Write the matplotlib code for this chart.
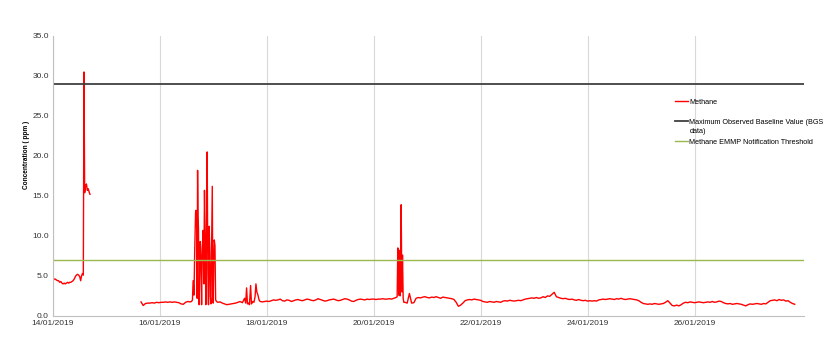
import matplotlib
matplotlib.use("Agg")
import matplotlib.pyplot as plt
import matplotlib.dates as mdates
import numpy as np
import pandas as pd

plt.rcParams['font.family'] = ['Liberation Sans', 'DejaVu Sans']

start = pd.Timestamp('2019-01-14 00:00')

# first run of readings (hours after 14/01 00:00)
seg1_hours = [0, 0.5, 1, 1.5, 2, 2.5, 3, 3.5, 4, 4.5, 5, 5.5, 6, 6.5, 7, 7.5, 8, 8.5, 9, 9.5,
              10, 10.5, 11, 11.5, 12, 12.4, 12.8, 13.2, 13.6, 13.9, 14.2, 14.6, 15.0, 15.4, 15.8, 16.2, 16.6]
seg1_ppm = [4.7, 4.6, 4.6, 4.5, 4.4, 4.4, 4.2, 4.3, 4.1, 4.0, 4.1, 4.0, 4.1, 4.2, 4.1, 4.2, 4.2, 4.3, 4.4, 4.6,
            4.9, 5.1, 5.2, 5.1, 4.9, 4.4, 5.0, 5.3, 5.1, 30.5, 15.4, 16.2, 16.5, 15.7, 15.9, 15.5, 15.2]

# second run: hourly background + bursts
base1_ppm = [1.75, 1.3, 1.55, 1.6, 1.6, 1.65, 1.6, 1.7, 1.65, 1.7, 1.7, 1.75, 1.7, 1.75, 1.7, 1.75,
             1.7, 1.65, 1.5, 1.45, 1.7, 1.8, 1.75]  # 39.5h .. 61.5h

burst1_hours = [62.2, 62.6, 62.9, 63.3, 63.6, 64.0, 64.2, 64.5, 64.7, 64.9,
                65.1, 65.3, 65.6, 65.9, 66.1, 66.4, 66.7, 67.0, 67.4, 67.7,
                68.0, 68.3, 68.6, 68.9, 69.2, 69.5, 69.8, 70.1, 70.4, 70.6,
                70.9, 71.2, 71.5, 71.7, 71.9, 72.2, 72.4, 72.7, 73.0, 73.4]
burst1_ppm = [1.8, 2.0, 4.4, 2.6, 8.0, 12.9, 13.2, 11.5, 2.2, 18.2,
              12.4, 11.0, 1.4, 6.8, 9.3, 7.0, 1.4, 8.5, 10.7, 4.0,
              15.7, 9.5, 1.4, 10.2, 20.5, 6.0, 1.4, 11.2, 8.0, 2.5,
              1.5, 9.0, 16.2, 5.0, 1.6, 7.5, 9.5, 8.8, 2.0, 1.8]

base2_ppm = [1.7, 1.75, 1.6, 1.5, 1.4, 1.45, 1.5, 1.55, 1.6, 1.7, 1.8, 1.65, 2.2]  # 74h .. 86h

burst2_hours = [86.5, 86.9, 87.3, 87.7, 88.2, 88.7, 89.1, 89.6, 90.2, 90.7, 91.1, 91.5, 92.0, 92.5]
burst2_ppm = [1.6, 3.5, 1.5, 1.6, 1.4, 3.8, 1.5, 1.8, 1.7, 2.4, 4.0, 3.0, 2.6, 2.0]

base3_ppm = [1.8, 1.75, 1.8, 1.85, 1.8, 1.9, 2.0, 1.95, 2.0, 2.1,
             1.9, 1.85, 2.0, 1.95, 1.8, 1.9, 2.0, 2.05, 1.95, 1.9,
             2.0, 2.1, 2.05, 1.95, 1.9, 2.0, 2.15, 2.05, 1.95, 1.85,
             1.9, 2.0, 2.05, 2.1, 2.0, 1.9, 1.95, 2.05, 2.15, 2.1,
             2.0, 1.85, 1.8, 1.95, 2.05, 2.1, 2.05, 2.0, 2.1, 2.05,
             2.1, 2.1, 2.05, 2.1, 2.1, 2.15, 2.1, 2.1, 2.15, 2.1,
             2.2, 2.3]  # 93h .. 154h

burst3_hours = [154.5, 154.8, 155.0, 155.2, 155.5, 155.8, 156.0, 156.3, 156.6, 156.9, 157.2, 157.5]
burst3_ppm = [2.4, 8.5, 8.3, 2.6, 8.2, 2.5, 4.0, 13.9, 3.0, 7.6, 2.2, 1.7]

base4_ppm = [1.7, 1.6, 2.8, 1.6, 1.65, 2.2, 2.3, 2.25, 2.35, 2.4,
             2.3, 2.25, 2.35, 2.3, 2.4, 2.3, 2.2, 2.35, 2.3, 2.25,
             2.2, 2.15, 2.05, 1.7, 1.2, 1.35, 1.6, 1.9, 2.0, 2.05,
             2.0, 2.1, 2.05, 2.0, 1.95, 1.8, 1.75, 1.7, 1.8, 1.75,
             1.7, 1.8, 1.75, 1.7, 1.85, 1.9, 1.85, 1.95, 1.9, 1.85,
             1.9, 1.95, 1.9, 2.0, 2.1, 2.15, 2.2, 2.25, 2.2, 2.3,
             2.2, 2.25, 2.4, 2.3, 2.5, 2.45, 2.7, 2.95, 2.4, 2.3,
             2.2, 2.15, 2.2, 2.1, 2.05, 2.1, 2.0, 1.95, 2.05, 1.95,
             1.9, 1.95, 1.85, 1.9, 1.85, 1.9, 1.85, 2.0, 2.05, 2.1,
             2.05, 2.1, 2.15, 2.1, 2.05, 2.15, 2.1, 2.2, 2.1, 2.05,
             2.1, 2.15, 2.1, 2.05, 2.0, 1.9, 1.7, 1.55, 1.5, 1.45,
             1.5, 1.45, 1.55, 1.5, 1.45, 1.5, 1.55, 1.7, 1.9, 1.6,
             1.3, 1.25, 1.35, 1.25, 1.4, 1.6, 1.7, 1.65, 1.75, 1.7,
             1.65, 1.7, 1.75, 1.7, 1.65, 1.7, 1.75, 1.7, 1.8, 1.7,
             1.75, 1.85, 1.8, 1.65, 1.55, 1.5, 1.55, 1.45, 1.5, 1.55,
             1.5, 1.45, 1.35, 1.25, 1.4, 1.5, 1.45, 1.5, 1.55, 1.5,
             1.45, 1.55, 1.5, 1.7, 1.9, 1.95, 2.0, 1.9, 2.05, 1.95,
             2.0, 1.85, 1.9, 1.7, 1.55, 1.45]  # 158h .. 333h

baseline_max = 29.0
emmp_threshold = 7.0

# assemble second run
seg2_hours = (list(39.5 + np.arange(len(base1_ppm))) + burst1_hours +
              list(74 + np.arange(len(base2_ppm))) + burst2_hours +
              list(93 + np.arange(len(base3_ppm))) + burst3_hours +
              list(158 + np.arange(len(base4_ppm))))
seg2_ppm = base1_ppm + burst1_ppm + base2_ppm + burst2_ppm + base3_ppm + burst3_ppm + base4_ppm

t1 = start + pd.to_timedelta(seg1_hours, unit='h')
t2 = start + pd.to_timedelta(seg2_hours, unit='h')

fig = plt.figure(figsize=(8.35, 3.46), dpi=100)
ax = fig.add_axes([0.0635, 0.087, 0.8995, 0.809])

ax.plot(t1, seg1_ppm, color='#ff0000', lw=1.0, label='Methane')
ax.plot(t2, seg2_ppm, color='#ff0000', lw=1.0)
ax.axhline(baseline_max, color='#404040', lw=1.3,
           label='Maximum Observed Baseline Value (BGS')
ax.axhline(emmp_threshold, color='#9bb84e', lw=1.0,
           label='Methane EMMP Notification Threshold')

ax.set_ylim(0, 35)
ax.set_yticks(np.arange(0, 36, 5))
ax.yaxis.set_major_formatter(matplotlib.ticker.FormatStrFormatter('%.1f'))
ax.set_xlim(start, start + pd.Timedelta(hours=337.2))
ax.set_xticks(pd.date_range('2019-01-14', '2019-01-26', freq='2D'))
ax.xaxis.set_major_formatter(mdates.DateFormatter('%d/%m/%Y'))
ax.tick_params(length=0, labelsize=6, colors='#333333', pad=3)
ax.grid(axis='x', color='#d9d9d9', lw=0.8)
ax.set_axisbelow(True)
for side in ['top', 'right']:
    ax.spines[side].set_visible(False)
for side in ['left', 'bottom']:
    ax.spines[side].set_color('#bfbfbf')
    ax.spines[side].set_linewidth(0.8)

ax.set_ylabel('Concentration ( ppm )', fontsize=4.7, fontweight='bold')
ax.yaxis.set_label_coords(-0.03, 0.575)

leg = ax.legend(loc='upper left', bbox_to_anchor=(0.824, 0.786), frameon=False, fontsize=5.2,
                handlelength=1.8, handletextpad=0.15, labelspacing=1.8, borderaxespad=0)
# wrapped remainder of the second legend label
ax.text(0.8475, 0.657, 'data)', transform=ax.transAxes, fontsize=5.2, va='center',
        color='#000000')

fig.savefig('out.png', dpi=100)
